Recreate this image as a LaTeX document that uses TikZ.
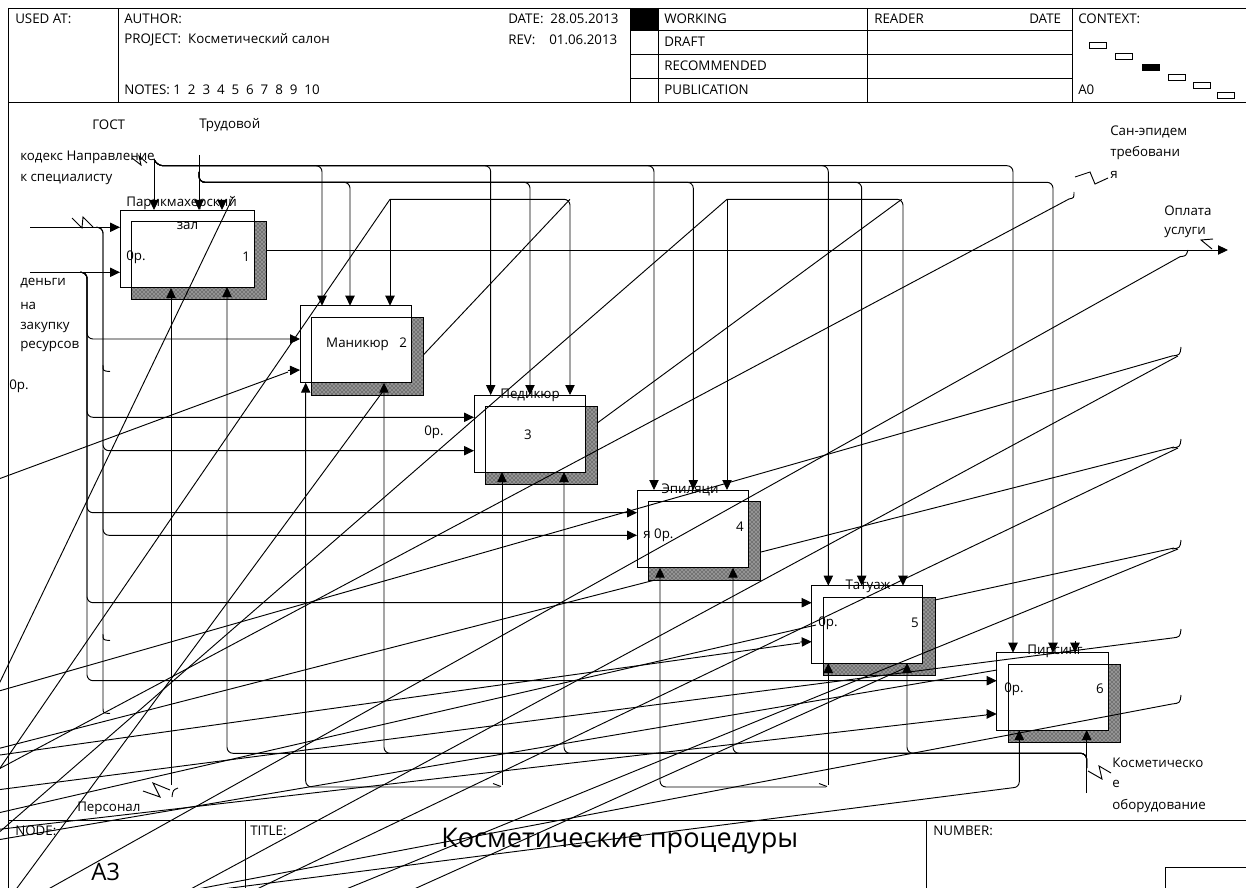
\documentclass[tikz,border=0pt]{standalone}
\usepackage{fontspec}
\setmainfont{Open Sans}
\usetikzlibrary{arrows.meta,patterns}
\newcommand{\idefbox}[5]{%
  \fill[black!55] (#2+11.7,#3+11.5) rectangle (#4+12.5,#5+12.5);
  \fill[pattern=crosshatch dots,pattern color=white] (#2+11.7,#3+11.5) rectangle (#4+12.5,#5+12.5);
  \fill[white] (#2+11.7,#3+11.5) rectangle (#4,#5);
  \draw[ln] (#2+11.7,#3+11.5) rectangle (#4+12.5,#5+12.5);
  \node[draw,line width=0.7pt,inner sep=0pt,outer sep=0pt,
        minimum width={(#4-#2)*0.75pt},minimum height={(#5-#3)*0.75pt},
        anchor=north west] (#1) at (#2,#3) {};
}
\begin{document}
\begin{tikzpicture}[x=0.75pt,y=-0.75pt,
  ln/.style={line width=0.7pt,black},
  arr/.style={ln,-{Triangle[length=7.5pt,width=7pt]}},
  rc/.style={rounded corners=4.5pt},
  lbl/.style={anchor=west,inner sep=0pt,font=\fontsize{10}{12}\selectfont},
  clbl/.style={inner sep=0pt,font=\fontsize{10}{12}\selectfont},
  ctx/.style={draw,line width=0.6pt,fill=white,inner sep=0pt,minimum width=12.5pt,minimum height=4.5pt},
]
\useasboundingbox (0,0) rectangle (1246,888);
\clip (0,0) rectangle (1246,888);
\fill[white] (0,0) rectangle (1246,888);

% ---------- header ----------
\draw[ln] (8,8) -- (1246,8);
\draw[ln] (8,102) -- (1246,102);
\draw[ln] (8,8) -- (8,888);
\draw[ln] (118,8) -- (118,102);
\draw[ln] (630,8) -- (630,102);
\draw[ln] (658,8) -- (658,102);
\draw[ln] (867,8) -- (867,102);
\draw[ln] (1072,8) -- (1072,102);
\foreach \yy in {30,54,78} \draw[ln] (630,\yy) -- (1072,\yy);
\fill (630,8) rectangle (658,30);
\node[lbl] (usedat) at (15,19) {USED AT:};
\node[lbl] (author) at (124,19) {AUTHOR:};
\node[lbl] (project) at (124,40) {PROJECT:\ \ Косметический салон};
\node[lbl] (notes) at (124,90) {NOTES: 1\ \ 2\ \ 3\ \ 4\ \ 5\ \ 6\ \ 7\ \ 8\ \ 9\ \ 10};
\node[lbl] (date) at (508,19) {DATE:\ \ 28.05.2013};
\node[lbl] (rev) at (508,40) {REV:\ \ \ \ 01.06.2013};
\node[lbl] (working) at (664,19) {WORKING};
\node[lbl] (draft) at (664,42) {DRAFT};
\node[lbl] (recom) at (664,66) {RECOMMENDED};
\node[lbl] (publ) at (664,90) {PUBLICATION};
\node[lbl] (reader) at (874,19) {READER};
\node[lbl] (rdate) at (1029,19) {DATE};
\node[lbl] (context) at (1078,19) {CONTEXT:};
\node[lbl] (a0) at (1078,90) {A0};
\node[ctx] (k1) at (1098,45) {};
\node[ctx] (k2) at (1124,56) {};
\node[ctx,fill=black] (k3) at (1151,67) {};
\node[ctx] (k4) at (1177,77) {};
\node[ctx] (k5) at (1202,85) {};
\node[ctx] (k6) at (1226,95) {};

% ---------- footer ----------
\draw[ln] (8,820) -- (1246,820);
\draw[ln] (245.6,820) -- (245.6,888);
\draw[ln] (926.7,820) -- (926.7,888);
\draw[ln] (1165.7,888) -- (1165.7,867) -- (1246,867);
\node[lbl] (node) at (15,831) {NODE:};
\node[lbl] (titlel) at (250,831) {TITLE:};
\node[lbl] (number) at (933,831) {NUMBER:};
\node[anchor=west,inner sep=0pt,font=\fontsize{18}{20}\selectfont] (a3) at (91,872) {A3};
\node[anchor=west,inner sep=0pt,font=\fontsize{20.3}{23}\selectfont] (title) at (441,841) {Косметические процедуры};

% ---------- boxes ----------
\idefbox{b1}{120}{210}{254}{287}
\idefbox{b2}{300}{305.7}{411}{382.7}
\idefbox{b3}{474}{395}{585}{472}
\idefbox{b4}{637}{490}{748}{567.7}
\idefbox{b5}{811.7}{585.7}{922.7}{663}
\idefbox{b6}{996.7}{652.7}{1108}{730}

% ---------- controls ----------
\draw[arr] (154,159) -- (154,210);
\foreach \xx/\yy in {322/305.7, 490.7/395, 654/490, 828.3/585.7, 1013/652.7}
  \draw[arr,rc] (154,159) -- (157,165.7) -- (\xx,165.7) -- (\xx,\yy);
\draw[ln] (132,158) -- (141,165) -- (139,156) -- (147,163);
\draw[arr] (199,155) -- (199,210);
\foreach \xx/\yy in {350/305.7, 530/395, 693.3/490, 861.7/585.7, 1053/652.7}
  \draw[arr,rc] (199,172) -- (199,182.3) -- (\xx,182.3) -- (\xx,\yy);
\draw[arr] (390,199.3) -- (390,305.7);
\draw[arr,rc] (390,199.3) -- (570,199.3) -- (570,395);
\draw[arr] (727,199.3) -- (727,490);
\draw[arr,rc] (727,199.3) -- (903,199.3) -- (903,585.7);
\draw[arr] (222,201) -- (222,210);
\draw[arr] (1075,641) -- (1075,652.7);

% ---------- inputs ----------
\draw[arr] (30,227.3) -- (120,227.3);
\draw[arr] (30,272.3) -- (120,272.3);
\draw[ln] (72,218) -- (82,228) -- (83,217) -- (93,227);
\draw[arr,rc] (96,227.3) -- (103,227.3) -- (103,450.7) -- (474,450.7);
\draw[arr,rc] (96,227.3) -- (103,227.3) -- (103,535.3) -- (637,535.3);
\draw[ln] (103,450) -- (103,708) .. controls (103,713) .. (110,713.5);
\draw[ln] (103,365) .. controls (103,371) .. (110,371.5);
\draw[ln] (103,634) .. controls (103,640) .. (110,640.5);
\foreach \yy/\xx in {339/300, 417.3/474, 512.7/637, 602.7/811.7, 680.7/996.7}
  \draw[arr,rc] (80,272.3) -- (87,272.3) -- (87,\yy) -- (\xx,\yy);
\draw[arr] (288,370.5) -- (300,370);
\draw[arr] (800,642) -- (811.7,641.7);
\draw[arr] (986,714) -- (996.7,714);

% ---------- outputs ----------
\draw[arr] (266.7,250) -- (1228,250);
\draw[ln] (1213,239) -- (1201,240) -- (1212,249);
\draw[ln] (1180,256.7) .. controls (1186,256) .. (1188,250);
\draw[ln] (423.3,355) -- (570,199.3);
\draw[ln] (597.7,422.7) -- (901.7,199.3);
\draw[ln] (761,552) -- (1174,447);
\draw[ln] (935,600) -- (1174,548);
\foreach \hy in {350,442,543,632,698}
  \draw[ln] (1172,\hy+6) .. controls (1180,\hy+5) .. (1181,\hy-3);
\draw[ln] (1069,199) .. controls (1074,198) .. (1074,192);
\draw[ln] (1075,177) -- (1090,172) -- (1095,184) -- (1108,178);

% ---------- mechanisms ----------
\draw[arr] (171,785) -- (171,288);
\draw[ln] (143,791) -- (160,797) -- (153,783) -- (170,790);
\draw[ln] (172,797) .. controls (173,790) .. (178,788);
\draw[arr,rc] (500,787) -- (305.7,787) -- (305.7,382.7);
\draw[arr] (502,785) -- (502,472);
\draw[ln] (493,783.5) -- (501,786.5);
\draw[arr,rc] (826,787) -- (660,787) -- (660,567.7);
\draw[arr] (828.3,785) -- (828.3,663);
\draw[ln] (819,783.5) -- (827,786.5);
\draw[arr,rc] (1013,787.7) -- (1019.3,787.7) -- (1019.3,730);
\draw[arr] (1086.7,793) -- (1086.7,730);
\foreach \xx/\yy in {907/663, 733/567.7, 564/472, 384/382.7, 227/287}
  \draw[arr,rc] (1086.7,768) -- (1086.7,753.3) -- (\xx,753.3) -- (\xx,\yy);
\draw[ln] (1088,771) -- (1102,779) -- (1099,766) -- (1111,773);

% ---------- stray diagonal connectors ----------
\draw[ln] (233,197) -- (-50,786);
\draw[ln] (390,199.3) -- (-50,841);
\draw[ln] (288,372) -- (-50,497);
\draw[ln] (727,199.3) -- (-50,875);
\draw[ln] (1069,199) -- (-50,795);
\draw[ln] (1180,256.7) -- (-50,944);
\draw[ln] (1172,356) -- (-50,705);
\draw[ln] (1178,356) -- (-50,1019);
\draw[ln] (1178,448) -- (-50,1036);
\draw[ln] (1178,549) -- (-50,1051);
\draw[ln] (1172,638) -- (-50,796);
\draw[ln] (1172,704) -- (-50,936);
\draw[ln] (1013,787.7) -- (-50,924);
\draw[ln] (800,643) -- (-50,762);
\draw[ln] (986,715) -- (-50,835);
\draw[ln] (816,625) -- (-50,824);
\draw[ln] (997,670) -- (-50,848);
\draw[ln] (384,390) -- (-50,979);
\draw[ln] (655,580) -- (-50,761);
\draw[ln] (905,668) -- (-50,1098);

% ---------- labels ----------
\node[lbl] (gost) at (92,125) {ГОСТ};
\node[lbl] (trud) at (199,125) {Трудовой};
\node[lbl] (kodeks) at (20,157) {кодекс Направление};
\node[lbl] (kspec) at (20,179) {к специалисту};
\node[lbl] (den1) at (20,283) {деньги};
\node[lbl] (den2) at (20,306) {на};
\node[lbl] (den3) at (20,327) {закупку};
\node[lbl] (den4) at (20,346) {ресурсов};
\node[lbl] (zero1) at (9,386) {0р.};
\node[lbl] (zero2) at (424,432) {0р.};
\node[lbl] (san1) at (1110,132) {Сан-эпидем};
\node[lbl] (san2) at (1110,153) {требовани};
\node[lbl] (san3) at (1110,175) {я};
\node[lbl] (opl1) at (1164,211) {Оплата};
\node[lbl] (opl2) at (1164,232) {услуги};
\node[lbl] (pers) at (77,808) {Персонал};
\node[lbl] (kos1) at (1112,763) {Косметическо};
\node[lbl] (kos2) at (1112,784) {е};
\node[lbl] (kos3) at (1112,806) {оборудование};

\node[clbl] (t1a) at (181.5,203) {Парикмахерский};
\node[clbl] (t1b) at (187.5,225.5) {зал};
\node[lbl] (z1) at (126,257) {0р.};
\node[lbl] (n1) at (242,257) {1};
\node[clbl] (t2) at (357.5,344) {Маникюр};
\node[lbl] (n2) at (399,343) {2};
\node[clbl] (t3) at (530,395) {Педикюр};
\node[clbl] (n3) at (528,435) {3};
\node[clbl] (t4) at (690,490) {Эпиляци};
\node[lbl] (z4) at (643,535) {я 0р.};
\node[clbl] (n4) at (740,527) {4};
\node[clbl] (t5) at (868,586) {Татуаж};
\node[lbl] (z5) at (818,623) {0р.};
\node[clbl] (n5) at (915,623) {5};
\node[clbl] (t6) at (1055,651) {Пирсинг};
\node[lbl] (z6) at (1004,689) {0р.};
\node[clbl] (n6) at (1100,689) {6};
\end{tikzpicture}
\end{document}
